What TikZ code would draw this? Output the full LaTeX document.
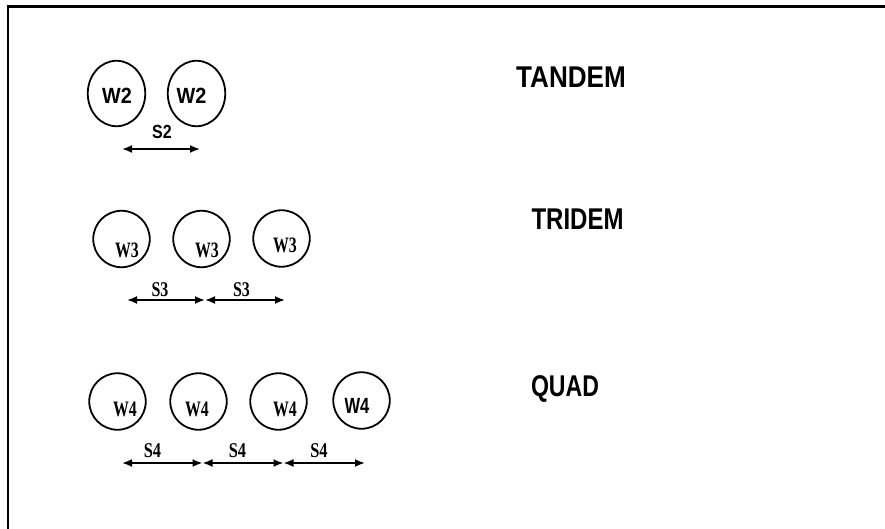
\documentclass[tikz,border=0pt]{standalone}
\usepackage{fontspec}
\usepackage{graphicx}
\setmainfont{Liberation Serif}
\setsansfont{Liberation Sans}
\usetikzlibrary{shapes.geometric,arrows.meta}
% horizontally condensed text
\newcommand{\squeeze}[2]{\scalebox{#1}[1]{#2}}

\begin{document}
\begin{tikzpicture}[x=1pt,y=-1pt,
  wheel/.style={draw, line width=1.8pt, ellipse, minimum width=56.5pt, minimum height=56.5pt, inner sep=0pt},
  tallwheel/.style={wheel, minimum width=57.5pt, minimum height=65.5pt},
  sanslab/.style={font=\fontsize{22}{22}\sffamily\bfseries, inner sep=0pt},
  serlab/.style={font=\fontsize{22}{22}\rmfamily\bfseries, inner sep=0pt},
  spanlab/.style={font=\fontsize{21}{21}\rmfamily\bfseries, inner sep=0pt},
  axletitle/.style={font=\fontsize{30}{30}\sffamily\bfseries, inner sep=0pt},
  span/.style={line width=1.8pt, {Latex[length=10pt,width=8pt]}-{Latex[length=10pt,width=8pt]}}]

\useasboundingbox (0,0) rectangle (885,529);
% frame
\draw[line width=2.4pt] (8,540) -- (8,6.5) -- (895,6.5);

% ---- tandem axle ----
\node[tallwheel] (t1) at (116.5,93.5) {};
\node[tallwheel] (t2) at (196.5,93.5) {};
\node[sanslab] (t1l) at (117,95.5) {\squeeze{0.9}{W2}};
\node[sanslab] (t2l) at (191.5,95.5) {\squeeze{0.9}{W2}};
\node[font=\fontsize{19}{19}\sffamily\bfseries, inner sep=0pt] (s2) at (162,131.5) {\squeeze{0.84}{S2}};
\coordinate (ta) at (122,149);
\coordinate (tb) at (200,149);
\draw[span] (ta) -- (tb);
\node[axletitle] (tandem) at (571,77.5) {\squeeze{0.87}{TANDEM}};

% ---- tridem axle ----
\node[wheel] (r1) at (121.5,239) {};
\node[wheel] (r2) at (201.5,239) {};
\node[wheel] (r3) at (281.5,238.5) {};
\node[serlab] (r1l) at (127,250) {\squeeze{0.72}{W3}};
\node[serlab] (r2l) at (207,250) {\squeeze{0.72}{W3}};
\node[serlab] (r3l) at (285,245) {\squeeze{0.72}{W3}};
\node[spanlab] (s3a) at (160,290) {\squeeze{0.76}{S3}};
\node[spanlab] (s3b) at (241.5,290) {\squeeze{0.76}{S3}};
\coordinate (ra) at (127,300);
\coordinate (rb) at (205,300);
\coordinate (rc) at (285,300);
\draw[span] (ra) -- (rb);
\draw[span] (rb) -- (rc);
\node[axletitle] (tridem) at (577.5,219) {\squeeze{0.8}{TRIDEM}};

% ---- quad axle ----
\node[wheel] (q1) at (117.5,401.5) {};
\node[wheel] (q2) at (198.5,401.5) {};
\node[wheel] (q3) at (278.5,401.5) {};
\node[wheel] (q4) at (361.5,400.5) {};
\node[serlab] (q1l) at (125,409.5) {\squeeze{0.72}{W4}};
\node[serlab] (q2l) at (197,409.5) {\squeeze{0.72}{W4}};
\node[serlab] (q3l) at (285,409.5) {\squeeze{0.72}{W4}};
\node[sanslab] (q4l) at (357,405.5) {\squeeze{0.75}{W4}};
\node[spanlab] (s4a) at (152.5,451) {\squeeze{0.78}{S4}};
\node[spanlab] (s4b) at (237.5,451) {\squeeze{0.78}{S4}};
\node[spanlab] (s4c) at (319,451) {\squeeze{0.78}{S4}};
\coordinate (qa) at (122,463);
\coordinate (qb) at (202.5,463);
\coordinate (qc) at (283.5,463);
\coordinate (qd) at (365,463);
\draw[span] (qa) -- (qb);
\draw[span] (qb) -- (qc);
\draw[span] (qc) -- (qd);
\node[axletitle] (quad) at (565,389) {\squeeze{0.77}{QUAD}};
\end{tikzpicture}
\end{document}
